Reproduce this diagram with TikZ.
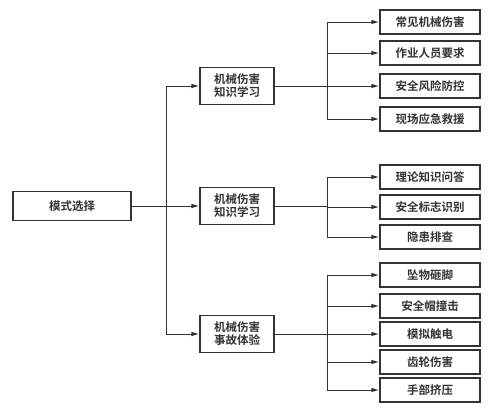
\documentclass[tikz,border=0pt]{standalone}
\usepackage{fontspec}
\newfontfamily\cjk{Noto Sans CJK SC}[BoldFont={Noto Sans CJK SC Bold}]
\usetikzlibrary{arrows.meta}
\definecolor{linegray}{HTML}{333333}
\tikzset{
  box/.style={draw=linegray, line width=1.2pt, text=linegray, font=\cjk\bfseries\fontsize{11.5}{13}\selectfont, inner sep=0pt, align=center},
  rootbox/.style={box, minimum width=118pt, minimum height=29pt},
  midbox/.style={box, minimum width=74pt, minimum height=37pt},
  leafbox/.style={box, minimum width=100pt, minimum height=24pt},
  link/.style={draw=linegray, line width=1pt},
  arrow/.style={link, -{Latex[length=8pt,width=4.5pt]}}
}
\begin{document}
\begin{tikzpicture}[x=1pt,y=-1pt]
    \useasboundingbox (0,0) rectangle (496,410);
    \node[rootbox] (root) at (72,206) {模式选择};
    \node[midbox] (m1) at (237,86) {机械伤害\\知识学习};
    \node[midbox] (m2) at (237,206) {机械伤害\\知识学习};
    \node[midbox] (m3) at (237,334) {机械伤害\\事故体验};
    \node[leafbox] (a1) at (430,22) {常见机械伤害};
    \node[leafbox] (a2) at (430,53) {作业人员要求};
    \node[leafbox] (a3) at (430,86) {安全风险防控};
    \node[leafbox] (a4) at (430,119) {现场应急救援};
    \node[leafbox] (b1) at (430,177) {理论知识问答};
    \node[leafbox] (b2) at (430,207) {安全标志识别};
    \node[leafbox] (b3) at (430,237) {隐患排查};
    \node[leafbox] (c1) at (430,275) {坠物砸脚};
    \node[leafbox] (c2) at (430,306) {安全帽撞击};
    \node[leafbox] (c3) at (430,334) {模拟触电};
    \node[leafbox] (c4) at (430,362) {齿轮伤害};
    \node[leafbox] (c5) at (430,390) {手部挤压};
    \coordinate (t) at (166,206);
    \coordinate (j1) at (327,86);
    \coordinate (j2) at (327,206);
    \coordinate (j3) at (327,334);
    \draw[arrow] (root) -- (m2);
    \draw[arrow] (t) |- (m1);
    \draw[arrow] (t) |- (m3);
    \draw[link] (m1) -- (j1);
    \draw[link] (m2) -- (j2);
    \draw[link] (m3) -- (j3);
    \draw[arrow] (j1) |- (a1);
    \draw[arrow] (j1) |- (a2);
    \draw[arrow] (j1) -- (a3);
    \draw[arrow] (j1) |- (a4);
    \draw[arrow] (j2) |- (b1);
    \draw[arrow] (j2) |- (b2);
    \draw[arrow] (j2) |- (b3);
    \draw[arrow] (j3) |- (c1);
    \draw[arrow] (j3) |- (c2);
    \draw[arrow] (j3) -- (c3);
    \draw[arrow] (j3) |- (c4);
    \draw[arrow] (j3) |- (c5);
\end{tikzpicture}
\end{document}
